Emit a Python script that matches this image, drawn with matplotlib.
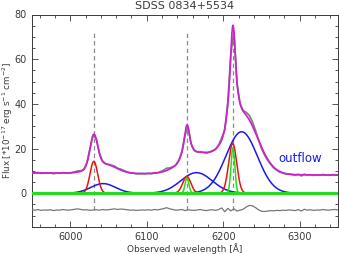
import numpy as np
import matplotlib
matplotlib.use("Agg")
import matplotlib.pyplot as plt
from matplotlib.ticker import MultipleLocator

# ---- data ----
title = "SDSS 0834+5534"
xlim = (5950, 6350)
ylim = (-15, 80)
line_centers = [6031.0, 6152.5, 6212.3]          # Hbeta, [OIII]4959, [OIII]5007 (dashed markers)

# continuum (linear): level at 5950 and at 6350
cont_left = 9.1
cont_right = 8.1

# Gaussian components: (center, amplitude, sigma)
blue_comps = [(6043.0, 4.3, 16.0), (6165.0, 9.2, 20.5), (6224.0, 27.5, 20.5)]
red_comps = [(6030.8, 14.3, 5.0), (6152.3, 7.5, 5.3), (6212.3, 22.3, 5.3)]
green_comps = [(6152.6, 6.8, 2.5), (6212.6, 20.3, 2.5)]

# residual (data - model, offset) sampled every 4 A from 5950 to 6350
resid_wave = np.arange(5950, 6351, 4)
resid = [
    -7.4, -7.6, -7.3, -7.7, -7.5, -7.6, -7.4, -7.8, -7.5, -7.6, -7.3, -7.5, -7.6,
    -7.4, -7.2, -7.0, -7.3, -7.5, -7.4, -7.7, -7.5, -7.4, -7.6, -7.3, -7.5, -7.4,
    -7.2, -7.0, -7.3, -7.1, -7.2, -7.4, -7.6, -7.5, -7.7, -7.6, -7.5, -7.6,
    -7.4, -7.6, -7.3, -7.5, -7.2, -6.9, -6.5, -7.0, -7.3, -7.6, -7.5, -7.3, -7.8,
    -7.4, -7.6, -7.7, -7.5, -7.3, -7.6, -7.8, -7.5, -7.4, -7.7, -7.3, -6.6,
    -8.3, -6.8, -7.9, -7.0, -8.0, -7.6, -7.2, -6.2, -5.5, -5.6, -6.4, -7.4, -8.1,
    -8.2, -8.0, -7.8, -7.9, -7.7, -7.8, -7.6, -7.7, -7.5, -7.6, -7.8, -7.3,
    -8.0, -7.2, -7.6, -7.4, -7.7, -7.5, -7.6, -7.3, -7.5, -7.6, -7.4, -7.3, -7.5,
]
resid_offset = -7.5

# ---- build model curves ----
def gauss(x, c, a, s):
    return a * np.exp(-0.5 * ((x - c) / s) ** 2)

def continuum(x):
    return cont_left + (cont_right - cont_left) * (x - xlim[0]) / (xlim[1] - xlim[0])

def total_model(x):
    y = continuum(x)
    for comps in (blue_comps, red_comps, green_comps):
        for c, a, s in comps:
            y = y + gauss(x, c, a, s)
    return y

wave = np.linspace(xlim[0], xlim[1], 1601)
model = total_model(wave)
resid = np.asarray(resid)
data_flux = total_model(resid_wave) + (resid - resid_offset)

# ---- plot ----
tc = "#3a3a3a"
plt.rcParams["font.family"] = ["DejaVu Sans"]
fig = plt.figure(figsize=(3.39, 2.54), dpi=100)
ax = fig.add_axes([32 / 339, 1 - 226.7 / 254, 306 / 339, (226.7 - 14.5) / 254])

for c in line_centers:
    ax.plot([c, c], [-7.5, 73], color="#8a8a8a", lw=0.9, dashes=(3.5, 2.5), zorder=1)

for c, a, s in blue_comps:
    ax.plot(wave, gauss(wave, c, a, s), color="#1a1aee", lw=1.1, zorder=3)
for c, a, s in red_comps:
    ax.plot(wave, gauss(wave, c, a, s), color="#ee1111", lw=1.1, zorder=4)
for c, a, s in green_comps:
    ax.plot(wave, gauss(wave, c, a, s), color="#22dd22", lw=1.1, zorder=5)
ax.axhline(0, color="#22dd22", lw=2.2, zorder=5)

ax.plot(resid_wave, data_flux, color="#808080", lw=1.3, zorder=6)
ax.plot(wave, model, color="#cc22cc", lw=1.2, zorder=7)
ax.plot(resid_wave, resid, color="#777777", lw=0.9, zorder=6)

ax.text(6272, 15.5, "outflow", color="#1a1aee", fontsize=8.5, ha="left", va="center")

ax.set_xlim(*xlim)
ax.set_ylim(*ylim)
ax.xaxis.set_major_locator(MultipleLocator(100))
ax.xaxis.set_minor_locator(MultipleLocator(20))
ax.yaxis.set_major_locator(MultipleLocator(20))
ax.yaxis.set_minor_locator(MultipleLocator(5))
ax.tick_params(which="both", direction="in", top=True, right=True, colors=tc,
               labelsize=7, width=0.6)
ax.tick_params(which="major", length=4.5, pad=4)
ax.tick_params(which="minor", length=2.2)
for sp in ax.spines.values():
    sp.set_color(tc)
    sp.set_linewidth(0.7)

ax.set_title(title, fontsize=8, color=tc, pad=4)
ax.set_xlabel("Observed wavelength [Å]", fontsize=6.5, color=tc, labelpad=0.5)
ax.set_ylabel(r"Flux [*10$^{-17}$ erg s$^{-1}$ cm$^{-2}$]", fontsize=6.3, color=tc,
              va="center", ha="center")
ax.yaxis.set_label_coords(-24.0 / 306, 0.5)

fig.savefig("out.png", dpi=100)
